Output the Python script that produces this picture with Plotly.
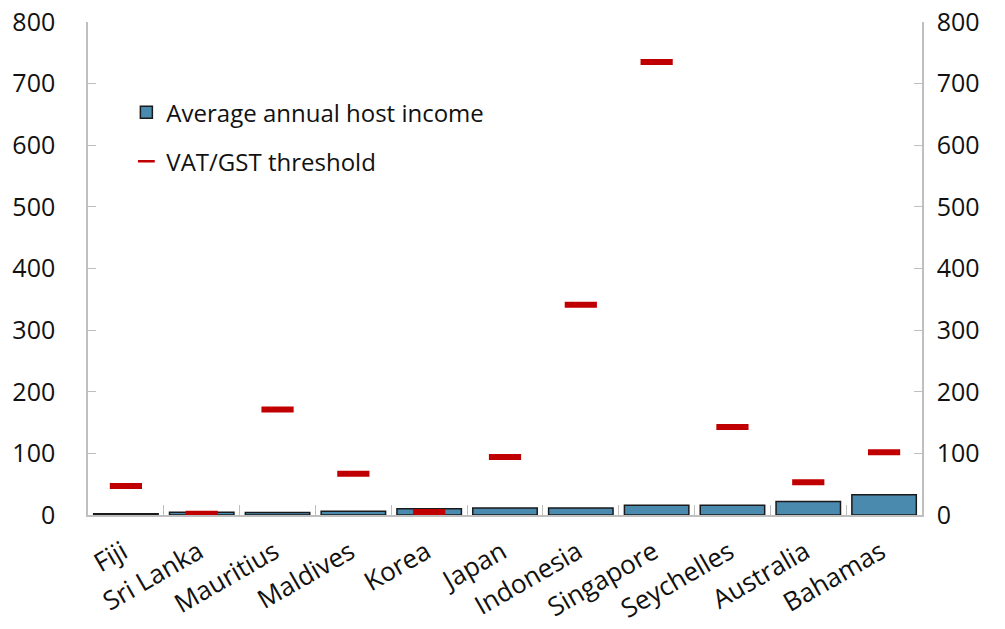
import plotly.graph_objects as go

countries = ["Fiji", "Sri Lanka", "Mauritius", "Maldives", "Korea", "Japan",
             "Indonesia", "Singapore", "Seychelles", "Australia", "Bahamas"]
host_income = [2, 4.5, 4, 6, 10, 11.5, 11.5, 16, 16, 22, 33]
vat_threshold = [47, 2, 171, 67, 5, 94, 341, 735, 143, 53, 102]
y_ticks = [0, 100, 200, 300, 400, 500, 600, 700, 800]

font_family = "Open Sans, Noto Sans, DejaVu Sans, sans-serif"

fig = go.Figure()
fig.add_trace(go.Bar(
    x=countries, y=host_income, name="Average annual host income",
    legendgroup="a",
    marker=dict(color="#4a8aae", line=dict(color="#1a1a1a", width=1.5)),
    width=0.85,
))
fig.add_trace(go.Scatter(
    x=countries, y=vat_threshold, name="VAT/GST threshold", mode="markers",
    legendgroup="b", showlegend=False,
    marker=dict(symbol="line-ew", size=23, color="#c00000",
                line=dict(color="#c00000", width=6)),
))
# legend-only entry with a thin dash symbol
fig.add_trace(go.Scatter(
    x=[None], y=[None], name="VAT/GST threshold", mode="markers",
    legendgroup="b",
    marker=dict(symbol="line-ew", size=12, color="#c00000",
                line=dict(color="#c00000", width=2.5)),
))
fig.add_trace(go.Scatter(
    x=countries, y=vat_threshold, yaxis="y2", mode="markers",
    marker=dict(opacity=0), showlegend=False, hoverinfo="skip",
))

axis_common = dict(
    range=[0, 800], tickvals=y_ticks, showgrid=False, zeroline=False,
    showline=True, linecolor="#bfbfbf", linewidth=1.5,
    ticks="inside", ticklen=8, tickcolor="#bfbfbf", automargin=False,
    ticklabeloverflow="allow",
    tickfont=dict(size=25, color="#111111", family=font_family),
)

fig.update_layout(
    width=1005, height=629,
    margin=dict(l=88, r=83, t=22, b=114, autoexpand=False),
    paper_bgcolor="white", plot_bgcolor="white",
    font=dict(family=font_family, color="#111111"),
    showlegend=True,
    legend=dict(x=0.046, y=0.862, xanchor="left", yanchor="top",
                font=dict(size=24, color="#111111"), bgcolor="rgba(0,0,0,0)",
                itemwidth=30, tracegroupgap=15),
    xaxis=dict(showgrid=False, showline=True, linecolor="#bfbfbf", linewidth=1.5,
               range=[-0.5, len(countries) - 0.5],
               ticks="inside", tickson="boundaries", ticklen=10, tickcolor="#bfbfbf",
               tickangle=-30, automargin=False, ticklabelshift=-3,
               ticklabelstandoff=10, ticklabeloverflow="allow",
               tickfont=dict(size=26, color="#111111", family=font_family)),
    yaxis=dict(side="left", ticklabelstandoff=26, **axis_common),
    yaxis2=dict(side="right", overlaying="y", ticklabelstandoff=8, **axis_common),
    bargap=0.15,
)

fig.write_html("out.html", config={"displayModeBar": False},
               post_script="document.body.style.margin='0';")
